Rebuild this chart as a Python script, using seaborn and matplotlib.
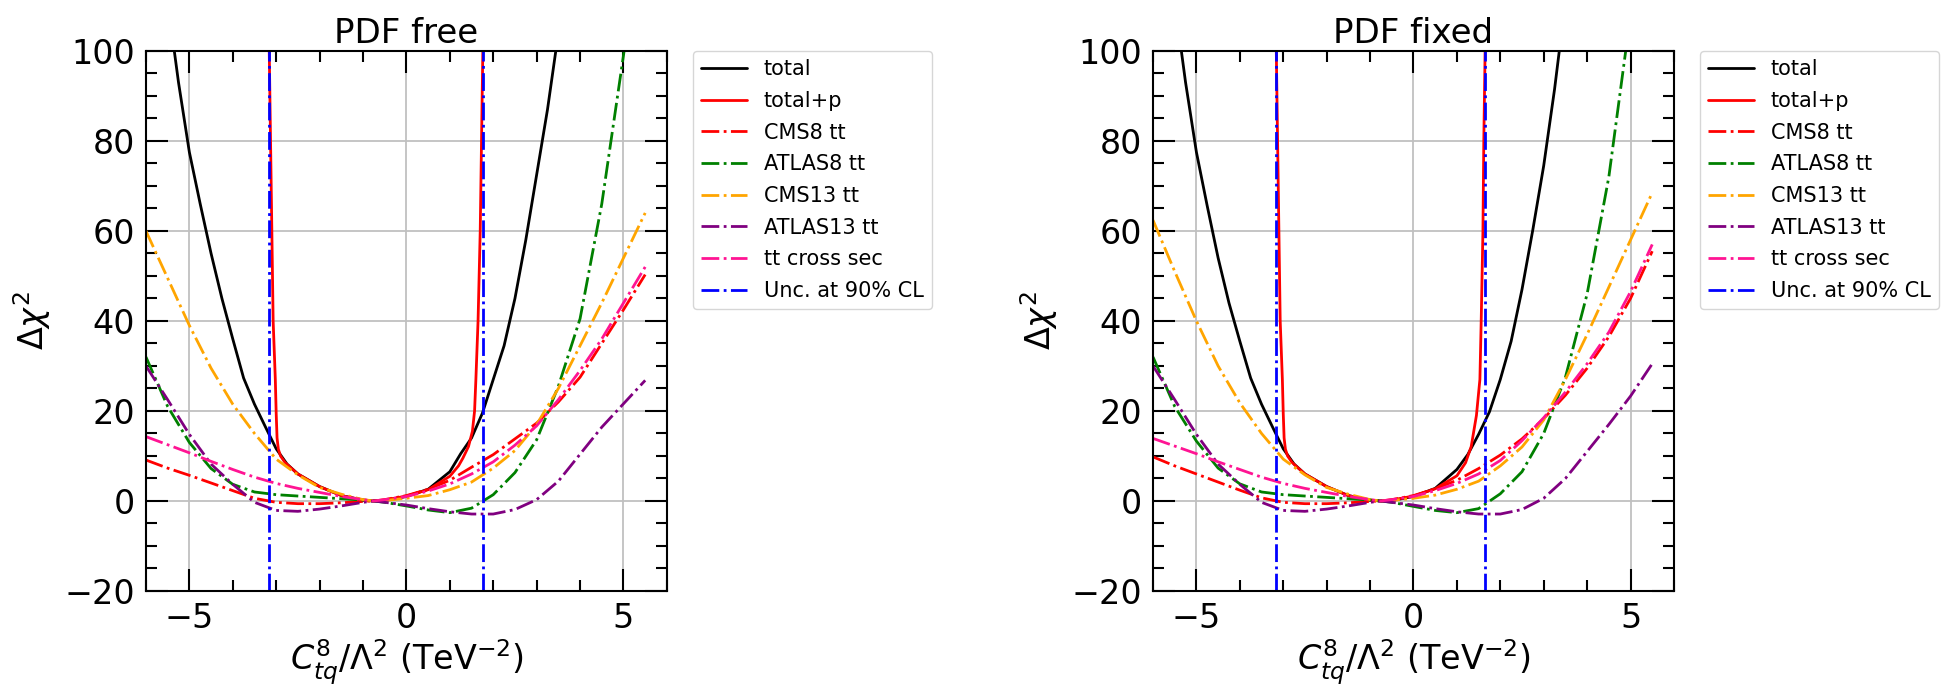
import matplotlib
matplotlib.use("Agg")
import matplotlib.pyplot as plt
from matplotlib.ticker import MultipleLocator
import seaborn as sns

# common grid of Wilson coefficient values (TeV^-2)
x_grid = [-6.0, -5.5, -5.0, -4.5, -4.0, -3.5, -3.0, -2.5, -2.0, -1.5, -1.0, -0.75,
          -0.5, 0.0, 0.5, 1.0, 1.5, 2.0, 2.5, 3.0, 3.5, 4.0, 4.5, 5.0, 5.5]
x_total = [-6.0, -5.75, -5.5, -5.25, -5.0, -4.75, -4.5, -4.25, -4.0, -3.75, -3.5, -3.25,
           -3.0, -2.75, -2.5, -2.0, -1.5, -1.0, -0.75, -0.5, 0.0, 0.5, 1.0, 1.25,
           1.5, 1.75, 2.0, 2.25, 2.5, 2.75, 3.0, 3.25, 3.5, 3.75]

# ---- PDF free ----
total_free = [150, 130, 111, 93, 77.5, 66, 55, 45, 36, 27.3, 21.5, 16.5,
              11.6, 8.2, 6.0, 3.2, 1.2, 0.2, 0.0, 0.1, 1.0, 2.6, 6.5, 10.5,
              14, 19.5, 27, 34.5, 45, 58, 72.5, 87, 104, 125]
x_totp_free = [-3.17, -3.16, -3.13, -3.10, -3.07, -3.02, -3.0, -2.98, -2.95, -2.9, -2.8,
               -2.7, -2.5, -2.0, -1.5, -1.0, -0.75, -0.5, 0.0, 0.5, 1.0, 1.2, 1.3,
               1.43, 1.52, 1.57, 1.6, 1.65, 1.70, 1.73, 1.76, 1.77]
totp_free = [130, 100, 80, 60, 40, 27, 19.5, 14, 11.5, 10, 8.6,
             7.7, 6.0, 3.2, 1.2, 0.2, 0.0, 0.2, 1.1, 2.5, 5.5, 7.8, 9.5,
             12.1, 15.5, 20, 27, 40, 60, 80, 100, 130]
cms8_free = [9.1, 7.3, 5.7, 4.0, 2.3, 0.6, -0.3, -0.6, -0.6, -0.4, -0.1, 0.0,
             0.3, 1.2, 2.6, 4.6, 7.5, 10.3, 13.8, 17.3, 22, 27.5, 35, 42.5, 50.3]
atlas8_free = [32, 21, 13, 7.2, 3.7, 2.0, 1.4, 1.1, 0.8, 0.5, 0.2, 0.0,
               -0.3, -1.1, -2.0, -2.6, -1.6, 1.4, 6.3, 13.6, 25.5, 40.5, 66, 99, 135]
cms13_free = [60, 49.5, 39, 29.5, 21.5, 15, 9.3, 5.8, 3.0, 1.5, 0.3, 0.0,
              0.1, 0.6, 1.2, 2.5, 4.2, 7.3, 11.2, 17, 25, 34.5, 44, 54, 64]
atlas13_free = [30, 22.5, 14.8, 8.2, 3.7, -0.3, -2.1, -2.3, -1.8, -1.1, -0.3, 0.0,
                -0.3, -0.9, -1.7, -2.4, -2.9, -2.9, -1.9, 0.3, 4.4, 10.4, 16.4, 21.6, 26.8]
xsec_free = [14.3, 12.5, 10.7, 8.8, 7.0, 5.3, 3.9, 2.8, 1.9, 1.0, 0.3, 0.0,
             0.3, 1.0, 2.2, 3.8, 6.0, 8.7, 12.4, 16.7, 22.5, 29, 36, 44, 52]
unc_free = [-3.16, 1.77]

# ---- PDF fixed ----
total_fixed = [150, 130, 111, 93, 77.5, 65.5, 54, 44, 35.5, 27.3, 21.5, 16.5,
               11.6, 8.2, 6.0, 3.2, 1.2, 0.2, 0.0, 0.1, 1.0, 2.8, 7.0, 10.3,
               14.8, 19.8, 27, 35.5, 47, 60.3, 74.5, 91.5, 111, 133]
x_totp_fixed = [-3.17, -3.16, -3.13, -3.10, -3.07, -3.02, -3.0, -2.98, -2.95, -2.9, -2.8,
                -2.7, -2.5, -2.0, -1.5, -1.0, -0.75, -0.5, 0.0, 0.5, 1.0, 1.2, 1.33,
                1.45, 1.53, 1.56, 1.60, 1.62, 1.65, 1.66]
totp_fixed = [130, 100, 80, 60, 40, 27, 19.5, 14, 11.5, 10, 8.6,
              7.7, 6.0, 3.2, 1.2, 0.2, 0.0, 0.2, 1.1, 2.7, 5.6, 8.5, 12.1,
              19, 27, 40, 60, 80, 100, 130]
cms8_fixed = [9.8, 7.8, 6.0, 4.2, 2.4, 0.7, -0.3, -0.6, -0.6, -0.4, -0.1, 0.0,
              0.3, 1.2, 2.7, 4.6, 7.2, 10.2, 13.8, 18.3, 23.5, 29.5, 36.5, 45, 55.5]
atlas8_fixed = [32, 21, 13.3, 7.3, 3.8, 2.0, 1.4, 1.1, 0.8, 0.5, 0.2, 0.0,
                -0.3, -1.2, -2.1, -2.6, -1.7, 1.6, 6.5, 15, 27.5, 46, 72, 108, 150]
cms13_fixed = [62.4, 51, 40, 30, 21.8, 15, 9.3, 5.8, 3.0, 1.5, 0.3, 0.0,
               0.1, 0.6, 1.3, 2.6, 4.4, 7.8, 12, 18, 27, 37, 47.5, 58, 68.5]
atlas13_fixed = [30, 22.5, 14.8, 8.2, 3.7, -0.3, -2.1, -2.3, -1.8, -1.1, -0.3, 0.0,
                 -0.3, -0.9, -1.7, -2.4, -2.9, -2.9, -1.9, 0.6, 5.0, 11, 17, 23.3, 30.5]
xsec_fixed = [13.9, 12.2, 10.5, 8.7, 7.0, 5.3, 3.9, 2.8, 1.9, 1.0, 0.3, 0.0,
              0.3, 1.0, 2.3, 3.9, 6.0, 9.0, 13.4, 18.5, 24.2, 30.5, 37.5, 46.5, 57]
unc_fixed = [-3.16, 1.65]

sns.set_style("white", {"axes.edgecolor": "black", "text.color": "black",
                        "axes.labelcolor": "black", "xtick.color": "black",
                        "ytick.color": "black"})
plt.rcParams["font.family"] = ["DejaVu Sans"]

fig = plt.figure(figsize=(19.46, 6.88), dpi=100)
ax1 = fig.add_axes([0.0750, 0.141, 0.2677, 0.785])
ax2 = fig.add_axes([0.5925, 0.141, 0.2677, 0.785])

panels = [
    (ax1, "PDF free", total_free, x_totp_free, totp_free, cms8_free, atlas8_free,
     cms13_free, atlas13_free, xsec_free, unc_free),
    (ax2, "PDF fixed", total_fixed, x_totp_fixed, totp_fixed, cms8_fixed, atlas8_fixed,
     cms13_fixed, atlas13_fixed, xsec_fixed, unc_fixed),
]

lw = 2.0
for ax, title, tot, xp, totp, c8, a8, c13, a13, xs, unc in panels:
    sns.lineplot(x=x_total, y=tot, ax=ax, color="black", lw=lw, label="total")
    sns.lineplot(x=xp, y=totp, ax=ax, color="red", lw=lw, label="total+p")
    sns.lineplot(x=x_grid, y=c8, ax=ax, color="red", lw=lw, ls="-.", label="CMS8 tt")
    sns.lineplot(x=x_grid, y=a8, ax=ax, color="green", lw=lw, ls="-.", label="ATLAS8 tt")
    sns.lineplot(x=x_grid, y=c13, ax=ax, color="orange", lw=lw, ls="-.", label="CMS13 tt")
    sns.lineplot(x=x_grid, y=a13, ax=ax, color="purple", lw=lw, ls="-.", label="ATLAS13 tt")
    sns.lineplot(x=x_grid, y=xs, ax=ax, color="deeppink", lw=lw, ls="-.", label="tt cross sec")
    for i, u in enumerate(unc):
        ax.axvline(u, color="blue", lw=lw, ls="-.",
                   label="Unc. at 90% CL" if i == 0 else None)

    ax.set_xlim(-6, 6)
    ax.set_ylim(-20, 100)
    ax.xaxis.set_major_locator(MultipleLocator(5))
    ax.xaxis.set_minor_locator(MultipleLocator(1))
    ax.yaxis.set_major_locator(MultipleLocator(20))
    ax.yaxis.set_minor_locator(MultipleLocator(5))
    ax.grid(True, which="major", color="#c0c0c0", lw=1.3)
    ax.tick_params(which="both", direction="in", top=True, right=True,
                   bottom=True, left=True, labelsize=24, pad=8)
    ax.tick_params(which="major", length=15.5, width=1.5)
    ax.tick_params(which="minor", length=8, width=1.5)
    for s in ax.spines.values():
        s.set_linewidth(1.5)
        s.set_color("black")
    ax.set_title(title, fontsize=24.5)
    ax.set_xlabel(r"$C^{8}_{tq}/\Lambda^2$ (TeV$^{-2}$)", fontsize=24, labelpad=2)
    ax.set_ylabel(r"$\Delta\chi^2$", fontsize=24, labelpad=8)
    ax.legend(loc="upper left", bbox_to_anchor=(1.05, 1.0), borderaxespad=0,
              fontsize=15, handlelength=2.2, labelspacing=0.56, frameon=True)

fig.savefig("out.png", dpi=100)
